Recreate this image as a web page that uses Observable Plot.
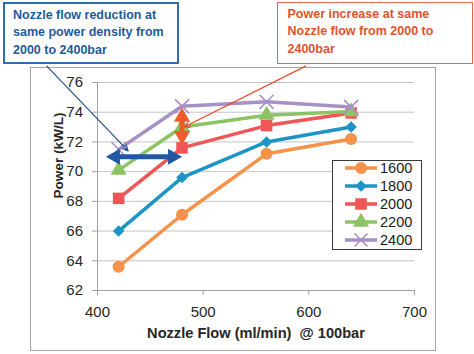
<!DOCTYPE html>
<html><head><meta charset="utf-8">
<script src="https://cdn.jsdelivr.net/npm/d3@7"></script>
<script src="https://cdn.jsdelivr.net/npm/@observablehq/plot@0.6"></script>
<style>
body{margin:0;background:#fff;}
#wrap{position:relative;width:474px;height:354px;overflow:hidden;font-family:"Liberation Sans",Arial,sans-serif;}
#frame{position:absolute;left:30px;top:67px;width:406px;height:284px;box-sizing:border-box;border:1px solid #a6a6a6;}
#chart{position:absolute;left:0;top:0;}
.callout{position:absolute;top:2px;height:62px;box-sizing:border-box;background:#fff;font-weight:bold;font-size:12.5px;line-height:17.3px;white-space:nowrap;}
#c1{left:3px;width:176px;border:2px solid #2f6db0;color:#1f5a9c;padding:3px 0 0 8px;}
#c2{left:277px;width:196px;border:1.5px solid #e86650;color:#e2522f;padding:3px 0 0 9.5px;}
#legend{position:absolute;left:332px;top:160px;width:90px;height:90px;box-sizing:border-box;border:1px solid #3a3a3a;background:#fff;}
</style></head><body>
<div id="wrap">
  <div id="frame"></div>
  <div id="chart"></div>
  <div id="c1" class="callout">Nozzle flow reduction at<br>same power density from<br>2000 to 2400bar</div>
  <div id="c2" class="callout">Power increase at same<br>Nozzle flow from 2000 to<br>2400bar</div>
  <div id="legend"></div>
</div>
<script>
// Data
const flow = [420, 480, 560, 640];
const pressures = ["1600", "1800", "2000", "2200", "2400"];
const power1600 = [63.6, 67.1, 71.2, 72.2];
const power1800 = [66.0, 69.6, 72.0, 73.0];
const power2000 = [68.2, 71.6, 73.1, 73.95];
const power2200 = [70.1, 73.0, 73.8, 74.05];
const power2400 = [71.5, 74.4, 74.7, 74.35];
const xTicks = [400, 500, 600, 700];
const yTicks = [62, 64, 66, 68, 70, 72, 74, 76];
const colors = ["#f7924a", "#1c94c6", "#f05656", "#8cc463", "#a690c6"];
const symbols = ["circle", "diamond2", "square", "triangle", "times"];
// annotations (data units)
const flowArrow = {y: 71, left: 408, right: 480};
const powerArrow = {x: 480, low: 71.8, high: 74.3};
const calloutBlue = {x1: 352, y1: 77.1, x2: 429, y2: 71.4};
const calloutRed = {x1: 597, y1: 77.1, x2: 482, y2: 73.0};

const series = [power1600, power1800, power2000, power2200, power2400];
const marks = [
  Plot.gridY(yTicks.filter(d => d > 62), {stroke: "#c4c4c4", strokeOpacity: 1}),
  Plot.ruleY([62], {stroke: "#a0a0a0"}),
  Plot.ruleX([400], {stroke: "#a0a0a0"}),
  Plot.axisY(yTicks, {tickSize: 5, tickPadding: 9.5, fontSize: 15, stroke: "#a0a0a0", fill: "#262626", label: null}),
  Plot.axisX(xTicks, {tickSize: 5, tickPadding: 11, fontSize: 15, stroke: "#a0a0a0", fill: "#262626", label: null}),
  Plot.text(["Nozzle Flow (ml/min)\u00a0 @ 100bar"], {text: d => d, frameAnchor: "bottom", dy: 47, fontWeight: "bold", fontSize: 14.6, fill: "#262626"}),
  Plot.text(["Power (kW/L)"], {text: d => d, frameAnchor: "left", dx: -39, dy: 12, rotate: -90, fontWeight: "bold", fontSize: 13.6, fill: "#262626"})
];
series.forEach((vals, i) => {
  const rows = flow.map((f, j) => ({flow: f, power: vals[j]}));
  marks.push(Plot.line(rows, {x: "flow", y: "power", stroke: colors[i], strokeWidth: 3.5}));
  if (symbols[i] === "times") {
    marks.push(Plot.dot(rows, {x: "flow", y: "power", symbol: "times", stroke: colors[i], strokeWidth: 1.6, r: 6.5}));
  } else {
    const r = symbols[i] === "diamond2" ? 5.2 : (symbols[i] === "square" ? 6.5 : 6);
    marks.push(Plot.dot(rows, {x: "flow", y: "power", symbol: symbols[i], fill: colors[i], stroke: "none", r}));
  }
});
// callout leader lines
marks.push(Plot.arrow([calloutBlue], {x1: "x1", y1: "y1", x2: "x2", y2: "y2", stroke: "#1f4f8f", strokeWidth: 1.2, headLength: 8, headAngle: 50}));
marks.push(Plot.arrow([calloutRed], {x1: "x1", y1: "y1", x2: "x2", y2: "y2", stroke: "#e24a2c", strokeWidth: 1.2, headLength: 8, headAngle: 50}));
// double arrows: shaft + filled triangular heads
const headR = 6, tipOff = 9.3;
function doubleArrow(p1, p2, horizontal, color) {
  marks.push(Plot.arrow([{x1: p1[0], y1: p1[1], x2: p2[0], y2: p2[1]}],
    {x1: "x1", y1: "y1", x2: "x2", y2: "y2", stroke: color, strokeWidth: 5, headLength: 0, insetStart: 8, insetEnd: 8}));
  if (horizontal) {
    marks.push(Plot.dot([p1], {x: d => d[0], y: d => d[1], symbol: "triangle", fill: color, r: headR, rotate: -90, dx: tipOff}));
    marks.push(Plot.dot([p2], {x: d => d[0], y: d => d[1], symbol: "triangle", fill: color, r: headR, rotate: 90, dx: -tipOff}));
  } else {
    marks.push(Plot.dot([p1], {x: d => d[0], y: d => d[1], symbol: "triangle", fill: color, r: headR, rotate: 180, dy: -tipOff}));
    marks.push(Plot.dot([p2], {x: d => d[0], y: d => d[1], symbol: "triangle", fill: color, r: headR, rotate: 0, dy: tipOff}));
  }
}
doubleArrow([flowArrow.left, flowArrow.y], [flowArrow.right, flowArrow.y], true, "#1f59a6");
doubleArrow([powerArrow.x, powerArrow.low], [powerArrow.x, powerArrow.high], false, "#f15a2a");

const chart = Plot.plot({
  width: 474, height: 354,
  marginLeft: 97, marginRight: 60, marginTop: 82, marginBottom: 64,
  x: {domain: [400, 700]},
  y: {domain: [62, 76]},
  style: {fontFamily: "Liberation Sans, Arial, sans-serif", background: "transparent", overflow: "visible"},
  marks
});
document.getElementById("chart").appendChild(chart);

// legend
const lg = d3.select("#legend").append("svg").attr("width", 88).attr("height", 88).style("display", "block");
const symMap = {circle: d3.symbolCircle, diamond2: d3.symbolDiamond2, square: d3.symbolSquare, triangle: d3.symbolTriangle, times: d3.symbolTimes};
pressures.forEach((p, i) => {
  const y = 7 + i * 18;
  const g = lg.append("g");
  g.append("line").attr("x1", 12).attr("x2", 44).attr("y1", y).attr("y2", y).attr("stroke", colors[i]).attr("stroke-width", 3.5);
  const r = symbols[i] === "diamond2" ? 5.2 : (symbols[i] === "square" ? 6.5 : 6);
  const path = d3.symbol(symMap[symbols[i]], Math.PI * r * r)();
  const s = g.append("path").attr("d", path).attr("transform", `translate(28,${y})`);
  if (symbols[i] === "times") s.attr("fill", "none").attr("stroke", colors[i]).attr("stroke-width", 1.6);
  else s.attr("fill", colors[i]);
  g.append("text").attr("x", 47).attr("y", y).attr("dy", "0.36em").attr("font-size", 14.5).attr("fill", "#1a1a1a")
    .attr("font-family", "Liberation Sans, Arial, sans-serif").text(p);
});
</script>
</body></html>
